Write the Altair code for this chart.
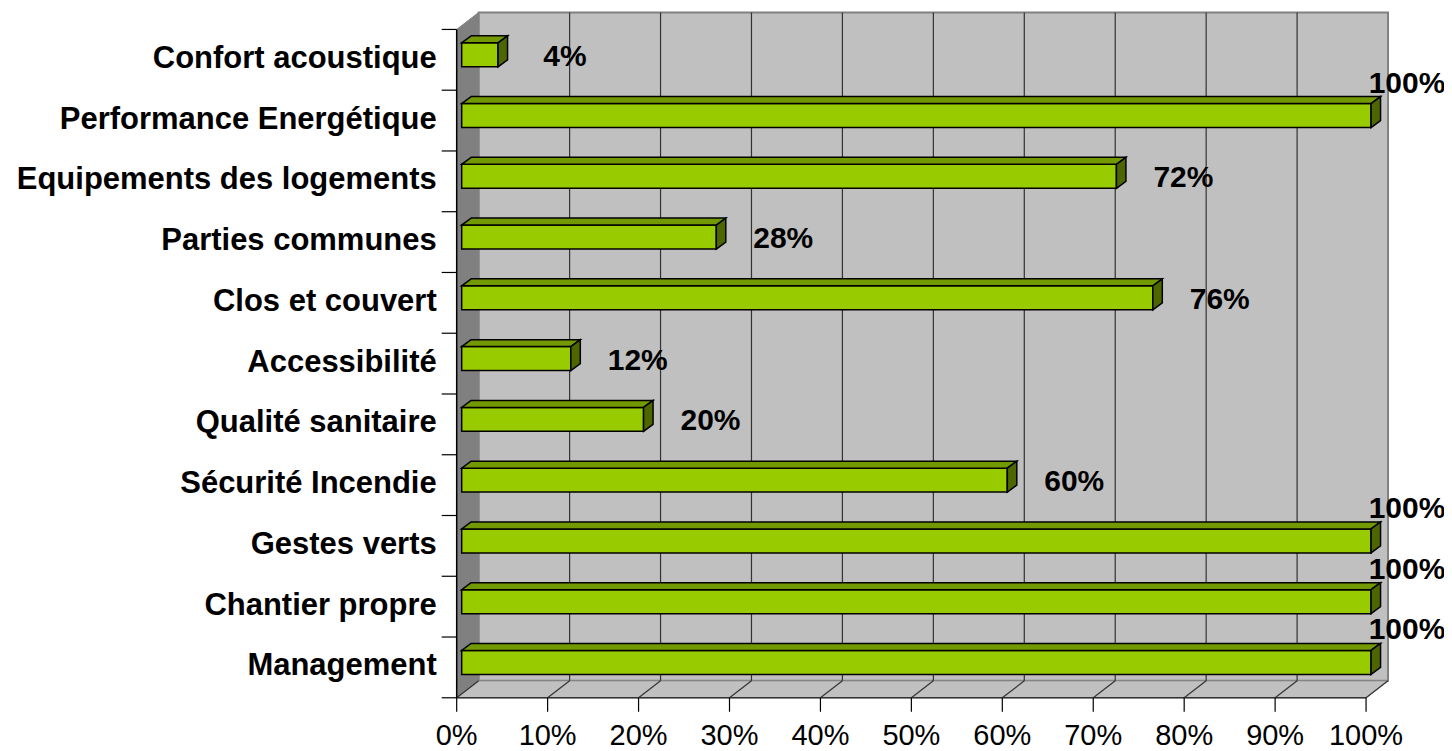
import altair as alt
import pandas as pd

# ---- data ----
categories = [
    "Confort acoustique",
    "Performance Energétique",
    "Equipements des logements",
    "Parties communes",
    "Clos et couvert",
    "Accessibilité",
    "Qualité sanitaire",
    "Sécurité Incendie",
    "Gestes verts ",
    "Chantier propre",
    "Management",
]
values = [4, 100, 72, 28, 76, 12, 20, 60, 100, 100, 100]
tick_values = [0, 10, 20, 30, 40, 50, 60, 70, 80, 90, 100]
tick_labels = ["0%", "10%", "20%", "30%", "40%", "50%", "60%", "70%", "80%", "90%", "100%"]

# ---- geometry (pixels per data unit) ----
PX = 9.1      # px per percent
RY = 60.8     # px per category row
N = len(categories)
WX, WY = 22 / PX, 17 / RY          # depth of the 3D walls
BX0, BY0 = 5 / PX, 5 / RY          # bar offset into depth
DX, DY = 9.5 / PX, 7 / RY          # bar depth
BH = 24 / RY                       # bar front face height
XMAX = (1390 - 457) / PX
YMAX = (698 - 11) / RY
W = round(XMAX * PX)
H = round(YMAX * RY)

xs = alt.Scale(domain=[0, XMAX], nice=False, zero=False)
ys = alt.Scale(domain=[0, YMAX], nice=False, zero=False)


def X(f):
    return alt.X(f, type="quantitative", scale=xs, axis=None)


def Y(f):
    return alt.Y(f, type="quantitative", scale=ys, axis=None)


FONT = "Liberation Sans"

# ---- tables built from the arrays ----
bars = []
tops = []
sides = []
for k, (c, v) in enumerate(zip(categories, values)):
    i = N - 1 - k
    x0, x1 = BX0, BX0 + v
    yb = i + 0.5 + BY0 - BH / 2
    yt = yb + BH
    full = v == 100
    bars.append(dict(cat=c, v=v, x0=x0, x1=x1, yb=yb, yt=yt, yc=i + 0.5, zero=0,
                     lbl=f"{v}%",
                     lx=x1 + (36 / PX if full else 67 / PX),
                     ly=i + 0.5 + (39 / RY if full else 5 / RY)))
    tops.append(dict(cat=c, y=yt, xa=x0, xb=x1))
    tops.append(dict(cat=c, y=yt + DY, xa=x0 + DX, xb=x1 + DX))
    sides.append(dict(cat=c, x=x1, ya=yb, yb=yt))
    sides.append(dict(cat=c, x=x1 + DX, ya=yb + DY, yb=yt + DY))
bars = pd.DataFrame(bars)
tops = pd.DataFrame(tops)
sides = pd.DataFrame(sides)

back = pd.DataFrame([dict(x=WX, x2=100 + WX, y=WY, y2=N + WY)])
leftwall = pd.DataFrame([dict(x=0, ya=0, yb=N), dict(x=WX, ya=WY, yb=N + WY)])
floor = pd.DataFrame([dict(y=0, xa=0, xb=100), dict(y=WY, xa=WX, xb=100 + WX)])
floorfront = pd.DataFrame([dict(y=0, xa=0, xb=100)])
grid = pd.DataFrame([dict(x=t + WX, y=WY, y2=N + WY) for t in tick_values[1:-1]])
floorlines = pd.DataFrame([dict(x=t, x2=t + WX, y=0, y2=WY) for t in tick_values])
xticks = pd.DataFrame(dict(x=tick_values, lab=tick_labels, y=[0] * len(tick_values),
                           y2=[-14 / RY] * len(tick_values)))
yticks = pd.DataFrame(dict(y=list(range(N + 1)), x=[-15 / PX] * (N + 1), x2=[0] * (N + 1)))
leftaxis = pd.DataFrame([dict(x=0, y=0, y2=N)])

# ---- layers ----
l_back = alt.Chart(back).mark_rect(fill="#C0C0C0", stroke="#808080", strokeWidth=2).encode(
    x=X("x"), x2="x2", y=Y("y"), y2="y2")
l_left = alt.Chart(leftwall).mark_area(orient="vertical", fill="#808080", stroke="#808080",
                                       strokeWidth=1).encode(x=X("x"), y=Y("ya"), y2="yb")
l_floor = alt.Chart(floor).mark_area(orient="horizontal", fill="#C0C0C0", stroke="#808080",
                                     strokeWidth=1).encode(y=Y("y"), x=X("xa"), x2="xb")
l_grid = alt.Chart(grid).mark_rule(color="#333333", strokeWidth=1.2).encode(
    x=X("x"), y=Y("y"), y2="y2")
l_floorlines = alt.Chart(floorlines).mark_rule(color="#333333", strokeWidth=1.2).encode(
    x=X("x"), x2="x2", y=Y("y"), y2="y2")
l_floorfront = alt.Chart(floorfront).mark_rule(color="#333333", strokeWidth=1.5).encode(
    x=X("xa"), x2="xb", y=Y("y"))
l_leftaxis = alt.Chart(leftaxis).mark_rule(color="#000000", strokeWidth=1.5).encode(
    x=X("x"), y=Y("y"), y2="y2")
l_yticks = alt.Chart(yticks).mark_rule(color="#000000", strokeWidth=1.2).encode(
    x=X("x"), x2="x2", y=Y("y"))
l_xticks = alt.Chart(xticks).mark_rule(color="#000000", strokeWidth=1.2).encode(
    x=X("x"), y=Y("y"), y2="y2")

l_front = alt.Chart(bars).mark_rect(fill="#99CC00", stroke="#000000", strokeWidth=1.5).encode(
    x=X("x0"), x2="x1", y=Y("yb"), y2="yt")
l_top = alt.Chart(tops).mark_area(orient="horizontal", fill="#739900", stroke="#000000",
                                  strokeWidth=1.5).encode(
    y=Y("y"), x=X("xa"), x2="xb", detail="cat:N")
l_side = alt.Chart(sides).mark_area(orient="vertical", fill="#4D6600", stroke="#000000",
                                    strokeWidth=1.5).encode(
    x=X("x"), y=Y("ya"), y2="yb", detail="cat:N")

l_ylabels = alt.Chart(bars).mark_text(align="right", baseline="alphabetic", dx=-20, dy=8,
                                      font=FONT, fontSize=31, fontWeight="bold",
                                      color="#000000").encode(
    x=X("zero"), y=Y("yc"), text="cat:N")
l_vlabels = alt.Chart(bars).mark_text(align="center", baseline="alphabetic", dy=11,
                                      font=FONT, fontSize=30, fontWeight="bold",
                                      color="#000000").encode(
    x=X("lx"), y=Y("ly"), text="lbl:N")
l_xlabels = alt.Chart(xticks).mark_text(align="center", baseline="alphabetic", dy=47,
                                        font=FONT, fontSize=29, color="#000000").encode(
    x=X("x"), y=Y("y"), text="lab:N")

chart = alt.layer(
    l_back, l_left, l_floor, l_grid, l_floorlines, l_floorfront, l_leftaxis, l_yticks,
    l_xticks, l_front, l_top, l_side, l_ylabels, l_vlabels, l_xlabels
).properties(
    width=W, height=H,
    padding={"left": 449, "top": 3, "right": 55, "bottom": 52},
    autosize=alt.AutoSizeParams(type="none"),
    background="white",
).configure_view(stroke=None)

chart.save("out.html", embed_options={"renderer": "svg", "actions": False})
